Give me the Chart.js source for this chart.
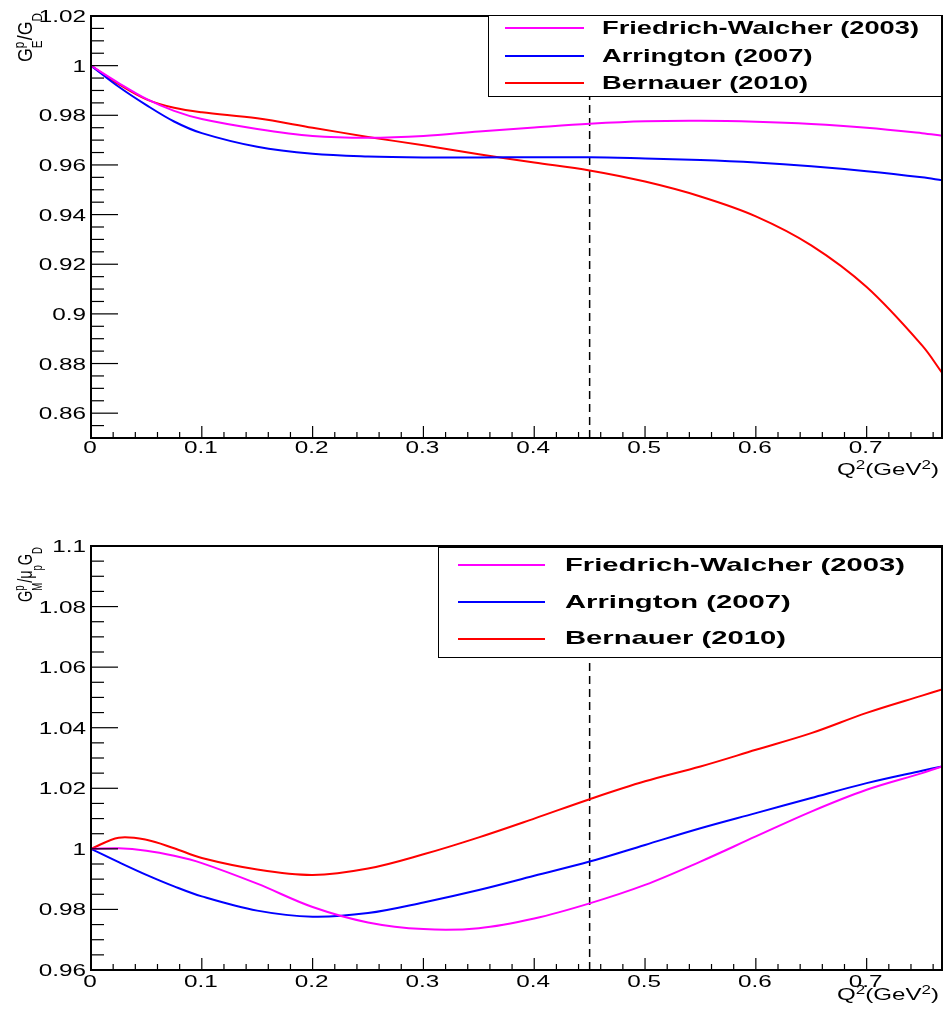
<!DOCTYPE html>
<html><head><meta charset="utf-8">
<script src="https://cdn.jsdelivr.net/npm/chart.js@4/dist/chart.umd.min.js"></script>
<style>
html,body{margin:0;padding:0;background:#fff;}
#wrap{position:relative;width:943px;height:1013px;overflow:hidden;}
canvas{position:absolute;left:0;}
</style></head><body>
<div id="wrap">
<canvas id="c1" width="943" height="506" style="top:0px"></canvas>
<canvas id="c2" width="943" height="507" style="top:506px"></canvas>
</div>
<script>
// ---- data ----
const q2 = [0, 0.025, 0.05, 0.075, 0.1, 0.15, 0.2, 0.25, 0.3, 0.35, 0.4, 0.45, 0.5, 0.55, 0.6, 0.65, 0.7, 0.75, 0.768];

const seriesNames = ['Friedrich-Walcher (2003)', 'Arrington (2007)', 'Bernauer (2010)'];
const seriesColors = ['#ff00ff', '#0000ff', '#ff0000'];

// G_E^p / G_D
const geFW = [1, 0.9930, 0.9866, 0.9818, 0.9785, 0.9745, 0.9717, 0.9710, 0.9717, 0.9735, 0.9751, 0.9766, 0.9776, 0.9778, 0.9774, 0.9765, 0.9750, 0.9728, 0.9718];
const geAR = [1, 0.9915, 0.9841, 0.9775, 0.9728, 0.9673, 0.9645, 0.9634, 0.9630, 0.9630, 0.9631, 0.9631, 0.9626, 0.9620, 0.9610, 0.9595, 0.9575, 0.9550, 0.9538];
const geBE = [1, 0.9925, 0.9864, 0.9830, 0.9812, 0.9788, 0.9750, 0.9713, 0.9679, 0.9643, 0.9610, 0.9578, 0.9533, 0.9473, 0.9393, 0.9276, 0.9108, 0.8873, 0.8763];

// G_M^p / (mu_p G_D)
const gmFW = [1, 1.0002, 0.9994, 0.9977, 0.9953, 0.9885, 0.9808, 0.9757, 0.9735, 0.9738, 0.9770, 0.9820, 0.9881, 0.9958, 1.0041, 1.0123, 1.0195, 1.0250, 1.0272];
const gmAR = [1, 0.9956, 0.9914, 0.9876, 0.9843, 0.9796, 0.9776, 0.9788, 0.9823, 0.9864, 0.9911, 0.9958, 1.0013, 1.0068, 1.0118, 1.0168, 1.0217, 1.0258, 1.0272];
const gmBE = [1, 1.0037, 1.0030, 1.0002, 0.9970, 0.9932, 0.9914, 0.9935, 0.9982, 1.0038, 1.0100, 1.0164, 1.0223, 1.0272, 1.0327, 1.0382, 1.0449, 1.0506, 1.0526];

const cutQ2 = 0.45;
const xRange = [0, 0.768];
const geRange = [0.85, 1.02];
const gmRange = [0.96, 1.1];

const xTickLabels = ['0', '0.1', '0.2', '0.3', '0.4', '0.5', '0.6', '0.7'];
const geTickLabels = ['0.86', '0.88', '0.9', '0.92', '0.94', '0.96', '0.98', '1', '1.02'];
const gmTickLabels = ['0.96', '0.98', '1', '1.02', '1.04', '1.06', '1.08', '1.1'];

// ---- helpers ----
const FONT = '"Liberation Sans", Arial, Helvetica, sans-serif';
const SX = 1.43;

function richDraw(ctx, parts, o) {
  const w8 = o.weight || 'normal';
  const mainF = `${w8} ${o.size}px ${FONT}`;
  const smallF = `${w8} ${o.small || o.size}px ${FONT}`;
  let w = 0; const segs = [];
  for (const p of parts) {
    ctx.font = mainF;
    const mw = ctx.measureText(p.t).width;
    segs.push({t: p.t, f: mainF, x: w, y: 0});
    w += mw;
    let adv = 0;
    if (p.sup) { ctx.font = smallF; adv = Math.max(adv, ctx.measureText(p.sup).width); segs.push({t: p.sup, f: smallF, x: w, y: o.supOff}); }
    if (p.sub) { ctx.font = smallF; adv = Math.max(adv, ctx.measureText(p.sub).width); segs.push({t: p.sub, f: smallF, x: w, y: o.subOff}); }
    w += adv;
  }
  const sx = o.target ? o.target / w : (o.sx || 1);
  ctx.save();
  ctx.scale(sx, o.sy || 1);
  ctx.textAlign = 'left';
  ctx.textBaseline = 'alphabetic';
  ctx.fillStyle = '#000';
  const x0 = o.align === 'right' ? -w : (o.align === 'center' ? -w / 2 : 0);
  for (const s of segs) { ctx.font = s.f; ctx.fillText(s.t, x0 + s.x, s.y); }
  ctx.restore();
}

function text(ctx, str, x, y, align, size, sx, weight) {
  ctx.save();
  ctx.translate(x, y);
  richDraw(ctx, [{t: str}], {size: size, align: align, sx: sx, weight: weight});
  ctx.restore();
}

function makeDecor(cfg) {
  return {
    id: 'rootDecor',
    afterDraw(chart) {
      const ctx = chart.ctx, xs = chart.scales.x, ys = chart.scales.y, a = chart.chartArea;
      ctx.save();
      ctx.strokeStyle = '#000';
      ctx.lineWidth = 1.2;
      const yMin = ys.min, yMax = ys.max;
      for (let k = Math.ceil(yMin / 0.005 - 1e-6); k <= Math.floor(yMax / 0.005 + 1e-6); k++) {
        const py = ys.getPixelForValue(k * 0.005);
        const len = (k % 4 === 0) ? 27 : 13;
        ctx.beginPath(); ctx.moveTo(a.left, py); ctx.lineTo(a.left + len, py); ctx.stroke();
      }
      for (let k = 0; k * 0.02 <= xs.max + 1e-9; k++) {
        const px = xs.getPixelForValue(k * 0.02);
        const len = (k % 5 === 0) ? 12 : 6;
        ctx.beginPath(); ctx.moveTo(px, a.bottom); ctx.lineTo(px, a.bottom - len); ctx.stroke();
      }
      ctx.lineWidth = 2;
      ctx.strokeRect(a.left, a.top, a.right - a.left, a.bottom - a.top);
      ctx.fillStyle = '#000';
      for (const lab of cfg.yLabels) {
        const py = ys.getPixelForValue(parseFloat(lab));
        text(ctx, lab, a.left - 5, py + 6, 'right', 17, SX);
      }
      for (const lab of xTickLabels) {
        const px = xs.getPixelForValue(parseFloat(lab));
        text(ctx, lab, px - 1, a.bottom + cfg.xLabOff, 'center', 17, SX);
      }
      ctx.save();
      ctx.translate(939, cfg.xTitleY);
      richDraw(ctx, [{t: 'Q', sup: '2'}, {t: '(GeV', sup: '2'}, {t: ')'}], {size: 17, small: 12, supOff: -6.5, align: 'right', target: 102});
      ctx.restore();
      ctx.save();
      ctx.translate(32, cfg.yTitleTop);
      ctx.rotate(-Math.PI / 2);
      richDraw(ctx, cfg.yTitle, {size: 19, small: 12.5, supOff: -7.5, subOff: 9, align: 'right', target: cfg.yTitleLen, sy: 1.1});
      ctx.restore();
      const L = cfg.legend;
      ctx.fillStyle = '#fff';
      ctx.fillRect(L.x0, L.y0, L.x1 - L.x0, L.y1 - L.y0);
      ctx.lineWidth = 1;
      ctx.strokeStyle = '#000';
      ctx.strokeRect(L.x0 + 0.5, L.y0 + 0.5, L.x1 - L.x0 - 1, L.y1 - L.y0 - 1);
      ctx.font = `bold 19px ${FONT}`;
      const lsx = L.textW / ctx.measureText(seriesNames[0]).width;
      seriesNames.forEach((name, i) => {
        ctx.strokeStyle = seriesColors[i];
        ctx.lineWidth = 2;
        ctx.beginPath(); ctx.moveTo(L.lx0, L.lineY[i]); ctx.lineTo(L.lx1, L.lineY[i]); ctx.stroke();
        text(ctx, name, L.tx, L.textY[i], 'left', 19, lsx, 'bold');
      });
      ctx.restore();
    }
  };
}

function makeChart(id, ys, yRange, padding, cfg) {
  const mk = (arr) => q2.map((x, i) => ({x: x, y: arr[i]}));
  const datasets = ys.map((arr, i) => ({
    label: seriesNames[i],
    data: mk(arr),
    borderColor: seriesColors[i],
    borderWidth: 2,
    pointRadius: 0,
    fill: false,
    tension: 0.35,
    order: 1
  }));
  datasets.unshift({
    label: 'cut',
    data: [{x: cutQ2, y: yRange[0]}, {x: cutQ2, y: yRange[1]}],
    borderColor: '#000',
    borderWidth: 1.5,
    borderDash: [8, 5],
    pointRadius: 0,
    tension: 0,
    fill: false,
    order: 2
  });
  return new Chart(document.getElementById(id), {
    type: 'line',
    data: {datasets: datasets},
    options: {
      responsive: false,
      animation: false,
      devicePixelRatio: 1,
      layout: {padding: padding},
      plugins: {legend: {display: false}, tooltip: {enabled: false}},
      scales: {
        x: {type: 'linear', min: xRange[0], max: xRange[1], display: false},
        y: {type: 'linear', min: yRange[0], max: yRange[1], display: false}
      }
    },
    plugins: [makeDecor(cfg)]
  });
}

makeChart('c1', [geFW, geAR, geBE], geRange, {left: 91, right: 1, top: 16, bottom: 68}, {
  yLabels: geTickLabels, xLabOff: 15, xTitleY: 475, yTitleTop: 13, yTitleLen: 49,
  yTitle: [{t: 'G', sup: 'p', sub: 'E'}, {t: '/G', sub: 'D'}],
  legend: {x0: 488, y0: 15, x1: 942, y1: 97, lx0: 505, lx1: 584, lineY: [28, 56, 83], tx: 602, textY: [34, 62, 89], textW: 317}
});

makeChart('c2', [gmFW, gmAR, gmBE], gmRange, {left: 91, right: 1, top: 40, bottom: 43}, {
  yLabels: gmTickLabels, xLabOff: 17, xTitleY: 494, yTitleTop: 41, yTitleLen: 55,
  yTitle: [{t: 'G', sup: 'p', sub: 'M'}, {t: '/\u03bc', sub: 'p'}, {t: 'G', sub: 'D'}],
  legend: {x0: 438, y0: 41, x1: 942, y1: 152, lx0: 458, lx1: 545, lineY: [59, 96, 133], tx: 565, textY: [65, 102, 138], textW: 340}
});
</script>
</body></html>
